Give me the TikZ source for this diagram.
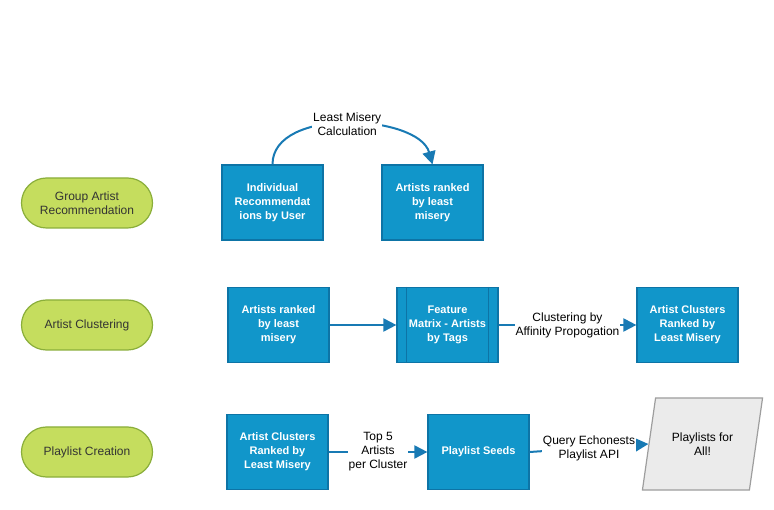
\documentclass[tikz,border=0pt]{standalone}
\usepackage{fontspec}
\setmainfont{Liberation Sans}
\usetikzlibrary{arrows.meta}
\usetikzlibrary{shapes.geometric}

\definecolor{boxblue}{RGB}{17,150,202}
\definecolor{boxedge}{RGB}{13,116,166}
\definecolor{stagegreen}{RGB}{197,221,94}
\definecolor{stageedge}{RGB}{138,174,58}
\definecolor{flowblue}{RGB}{24,122,180}
\definecolor{outgray}{RGB}{235,235,235}

\tikzset{
  stage/.style={draw=stageedge, line width=1.2pt, fill=stagegreen, rounded corners=25pt,
    minimum width=131pt, minimum height=50pt, align=center, text=black!80,
    font=\fontsize{12}{14}\selectfont},
  stepbox/.style={draw=boxedge, line width=1.2pt, fill=boxblue, minimum width=101pt,
    minimum height=75pt, align=center, text=white, font=\fontsize{11}{14}\selectfont\bfseries},
  flow/.style={draw=flowblue, line width=2pt, -{Triangle[length=13pt,width=13pt]}},
  flowlabel/.style={fill=white, align=center, inner sep=1pt, font=\fontsize{12}{14}\selectfont}
}

\begin{document}
\begin{tikzpicture}[x=1pt, y=-1pt]

\useasboundingbox (0,0) rectangle (774,510);

% Stages on the left
\node[stage] (grouprec) at (87,203) {Group Artist\\Recommendation};
\node[stage] (clustering) at (87,325) {Artist Clustering};
\node[stage] (creation) at (87,452) {Playlist Creation};

% Row 1: group recommendation
\node[stepbox] (indiv) at (272.5,202.5) {Individual\\Recommendat\\ions by User};
\node[stepbox] (ranked) at (432.5,202.5) {Artists ranked\\by least\\misery};
\draw[flow] (indiv.north) .. controls +(0,-58) and +(-14,-50) .. (ranked.north)
  node[flowlabel, pos=0.5] (calc) {Least Misery\\Calculation};

% Row 2: clustering
\node[stepbox] (rankedtwo) at (278.5,325) {Artists ranked\\by least\\misery};
\node[stepbox] (features) at (447.5,325) {Feature\\Matrix - Artists\\by Tags};
\draw[boxedge, line width=1.2pt] ([xshift=10pt]features.north west) -- ([xshift=10pt]features.south west);
\draw[boxedge, line width=1.2pt] ([xshift=-10pt]features.north east) -- ([xshift=-10pt]features.south east);
\node[stepbox] (clusters) at (687.5,325) {Artist Clusters\\Ranked by\\Least Misery};
\draw[flow] (rankedtwo) -- (features);
\draw[flow] (features) -- (clusters)
  node[flowlabel, midway] (affinity) {Clustering by\\Affinity Propogation};

% Row 3: playlist creation
\node[stepbox] (clusterstwo) at (277.5,452) {Artist Clusters\\Ranked by\\Least Misery};
\node[stepbox] (seeds) at (478.5,452) {Playlist Seeds};
\node[trapezium, trapezium left angle=72, trapezium right angle=108, trapezium stretches=true,
  draw=black!38, line width=1.2pt, fill=outgray, minimum width=121pt, minimum height=92pt,
  align=center, font=\fontsize{12}{14}\selectfont] (playlists) at (702.5,444) {Playlists for\\All!};
\draw[flow] (clusterstwo) -- (seeds)
  node[flowlabel, midway] (topfive) {Top 5\\Artists\\per Cluster};
\draw[flow] (seeds.east) -- (playlists.west)
  node[flowlabel, midway] (echonest) {Query Echonests\\Playlist API};

\end{tikzpicture}
\end{document}
